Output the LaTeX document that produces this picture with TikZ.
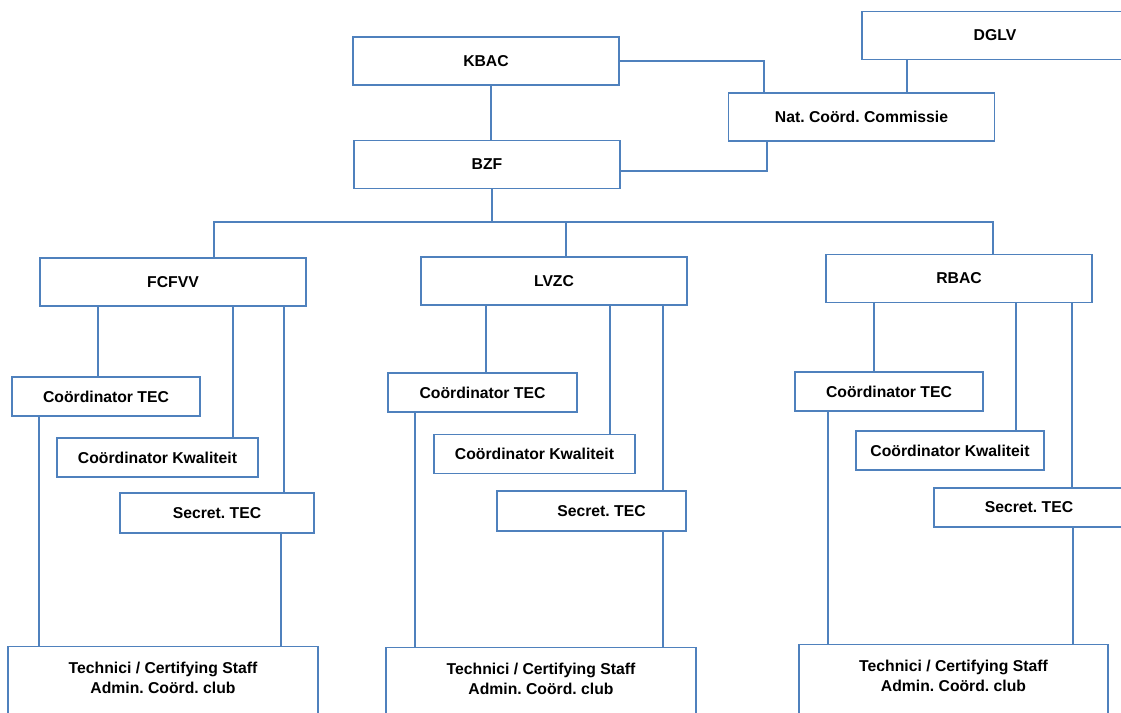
\documentclass[tikz,border=0pt]{standalone}
\usepackage{fontspec}
\setmainfont{Liberation Sans}
\usepackage{tikz}
\definecolor{orgblue}{RGB}{79,129,189}
\frenchspacing

\tikzset{
  orgbox/.style={draw=orgblue, line width=0.8pt, fill=white, inner sep=0pt,
    font=\fontsize{11.8}{15}\selectfont\bfseries},
  headbox/.style={orgbox, minimum width=199.5pt, minimum height=36pt},
  smallbox/.style={orgbox, minimum height=29.25pt},
  staffbox/.style={orgbox, anchor=north, align=center, minimum width=232.5pt,
    inner ysep=3pt, text height=32.25pt, text depth=30pt},
  link/.style={orgblue, line width=0.8pt}
}

\begin{document}
\begin{tikzpicture}[x=0.75pt,y=-0.75pt]
			\useasboundingbox (0,0) rectangle (1121,713);
			\clip (0,0) rectangle (1121,713);
			% top
			\node[headbox] (kbac) at (486,61) {KBAC};
			\node[headbox] (bzf) at (487,164.5) {BZF};
			\node[headbox] (ncc) at (861.5,117) {Nat. Coörd. Commissie};
			\node[headbox] (dglv) at (995,35.5) {DGLV};
			\draw[link] (kbac.south -| 491,0) -- (bzf.north -| 491,0);
			\draw[link] (kbac.east) -| (764,0 |- ncc.north);
			\draw[link] (dglv.south -| 907,0) -- (ncc.north -| 907,0);
			\draw[link] (ncc.south -| 767,0) -- (767,171) -- (bzf.east |- 0,171);
			% regions
			\node[headbox] (fcfvv) at (173,282) {FCFVV};
			\node[headbox] (lvzc) at (554,281) {LVZC};
			\node[headbox] (rbac) at (959,278.5) {RBAC};
			\coordinate (bus) at (492,222);
			\draw[link] (bzf.south -| bus) -- (bus);
			\draw[link] (fcfvv.north -| 214,0) -- (214,222) -- (993,222) -- (rbac.north -| 993,0);
			\draw[link] (lvzc.north -| 566,0) -- (566,222);
			% FCFVV
			\node[smallbox, minimum width=141pt] (fctec) at (106,396.5) {Coördinator TEC};
			\node[smallbox, minimum width=150.75pt] (fkwal) at (157.5,457.5) {Coördinator Kwaliteit};
			\node[smallbox, minimum width=145.5pt, minimum height=30pt] (fsecr) at (217,513) {Secret. TEC};
			\node[staffbox] (fstaff) at (163,646) {Technici / Certifying Staff\\Admin. Coörd. club};
			\draw[link] (fcfvv.south -| 98,0) -- (fctec.north -| 98,0);
			\draw[link] (fcfvv.south -| 233,0) -- (fkwal.north -| 233,0);
			\draw[link] (fcfvv.south -| 284,0) -- (fsecr.north -| 284,0);
			\draw[link] (fctec.south -| 39,0) -- (fstaff.north -| 39,0);
			\draw[link] (fsecr.south -| 281,0) -- (fstaff.north -| 281,0);
			% LVZC
			\node[smallbox, minimum width=141.75pt] (lctec) at (482.5,392.5) {Coördinator TEC};
			\node[smallbox, minimum width=150.75pt] (lkwal) at (534.5,454) {Coördinator Kwaliteit};
			\node[smallbox, minimum width=141.75pt, minimum height=30pt] (lsecr) at (591.5,511) {\hspace*{15pt}Secret. TEC};
			\node[staffbox] (lstaff) at (541,647) {Technici / Certifying Staff\\Admin. Coörd. club};
			\draw[link] (lvzc.south -| 486,0) -- (lctec.north -| 486,0);
			\draw[link] (lvzc.south -| 610,0) -- (lkwal.north -| 610,0);
			\draw[link] (lvzc.south -| 663,0) -- (lsecr.north -| 663,0);
			\draw[link] (lctec.south -| 415,0) -- (lstaff.north -| 415,0);
			\draw[link] (lsecr.south -| 663,0) -- (lstaff.north -| 663,0);
			% RBAC
			\node[smallbox, minimum width=141pt] (rctec) at (889,391.5) {Coördinator TEC};
			\node[smallbox, minimum width=141pt] (rkwal) at (950,450.5) {Coördinator Kwaliteit};
			\node[smallbox, minimum width=142.5pt] (rsecr) at (1029,507.5) {Secret. TEC};
			\node[staffbox, minimum width=231.75pt] (rstaff) at (953.5,644) {Technici / Certifying Staff\\Admin. Coörd. club};
			\draw[link] (rbac.south -| 874,0) -- (rctec.north -| 874,0);
			\draw[link] (rbac.south -| 1016,0) -- (rkwal.north -| 1016,0);
			\draw[link] (rbac.south -| 1072,0) -- (rsecr.north -| 1072,0);
			\draw[link] (rctec.south -| 828,0) -- (rstaff.north -| 828,0);
			\draw[link] (rsecr.south -| 1073,0) -- (rstaff.north -| 1073,0);
		\end{tikzpicture}
\end{document}
